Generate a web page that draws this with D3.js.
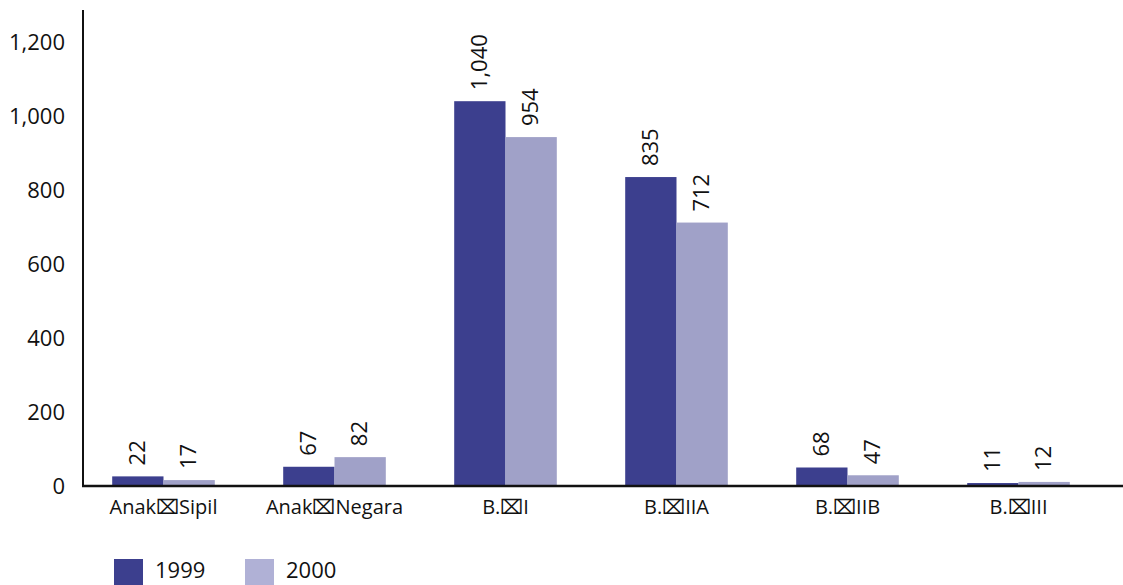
<!DOCTYPE html>
<html>
<head>
<meta charset="utf-8">
<script src="https://cdn.jsdelivr.net/npm/d3@7"></script>
<style>
  html, body { margin: 0; padding: 0; background: #fff; }
  svg { display: block; }
  text { font-family: "Open Sans", "Noto Sans", sans-serif; fill: #111; }
</style>
</head>
<body>
<svg id="chart" width="1123" height="585"></svg>
<script>
const categories = ["Anak\u2327Sipil", "Anak\u2327Negara", "B.\u2327I", "B.\u2327IIA", "B.\u2327IIB", "B.\u2327III"];
const seriesNames = ["1999", "2000"];
const values1999 = [26, 52, 1040, 835, 50, 8];
const values2000 = [16, 78, 943, 712, 29, 11];
const labels1999 = ["22", "67", "1,040", "835", "68", "11"];
const labels2000 = ["17", "82", "954", "712", "47", "12"];
const yTicks = [0, 200, 400, 600, 800, 1000, 1200];
const colors = ["#3c3f8e", "#a0a1c8"];
const legendColors = ["#3c3f8e", "#b0b1d6"];

const svg = d3.select("#chart");
const x0 = 83, yBase = 486, yTop = 42;

const x = d3.scaleBand().domain(categories).range([78, 1104]).padding(0);
const y = d3.scaleLinear().domain([0, 1200]).range([yBase, yTop]);
const barW = x.bandwidth() * 0.3;
const xs = d3.scaleBand().domain(seriesNames).range([-barW, barW]).padding(0);

const data = categories.map((c, i) => ({
  cat: c,
  vals: [
    { s: "1999", v: values1999[i], label: labels1999[i], color: colors[0] },
    { s: "2000", v: values2000[i], label: labels2000[i], color: colors[1] }
  ]
}));

const g = svg.append("g");
const groups = g.selectAll("g.cat").data(data).join("g")
  .attr("transform", d => `translate(${x(d.cat) + x.bandwidth() / 2},0)`);

groups.selectAll("rect").data(d => d.vals).join("rect")
  .attr("x", d => xs(d.s))
  .attr("width", xs.bandwidth())
  .attr("y", d => y(d.v))
  .attr("height", d => yBase - y(d.v))
  .attr("fill", d => d.color);

groups.selectAll("text.val").data(d => d.vals).join("text")
  .attr("class", "val")
  .attr("transform", d => `translate(${xs(d.s) + xs.bandwidth() / 2 + 7},${y(d.v) - 11}) rotate(-90)`)
  .attr("text-anchor", "start")
  .style("font-size", "22px")
  .text(d => d.label);

// Y axis
const yAxis = d3.axisLeft(y).tickValues(yTicks).tickFormat(d3.format(",")).tickSize(0).tickPadding(18);
const ya = svg.append("g").attr("transform", `translate(${x0},0)`).call(yAxis);
ya.select(".domain").remove();
ya.selectAll("text").style("font-size", "22px").style("font-family", "'Open Sans', sans-serif").attr("fill", "#111");
svg.append("line").attr("x1", x0).attr("x2", x0).attr("y1", 10).attr("y2", yBase + 1)
  .attr("stroke", "#111").attr("stroke-width", 2);

// X axis
const xAxis = d3.axisBottom(x).tickSize(0).tickPadding(14);
const xa = svg.append("g").attr("transform", `translate(0,${yBase})`).call(xAxis);
xa.select(".domain").remove();
xa.selectAll("text").style("font-size", "20px").style("font-family", "'Open Sans', sans-serif").attr("fill", "#111");
svg.append("line").attr("x1", x0 - 1).attr("x2", 1123).attr("y1", yBase).attr("y2", yBase)
  .attr("stroke", "#111").attr("stroke-width", 2.5);

// Legend
const legend = svg.append("g");
const lg = legend.selectAll("g").data(seriesNames).join("g")
  .attr("transform", (d, i) => `translate(${114 + i * 131},559)`);
lg.append("rect").attr("width", 29).attr("height", 28).attr("fill", (d, i) => legendColors[i]);
lg.append("text").attr("x", 41).attr("y", 19).style("font-size", "22px").text(d => d);
</script>
</body>
</html>
